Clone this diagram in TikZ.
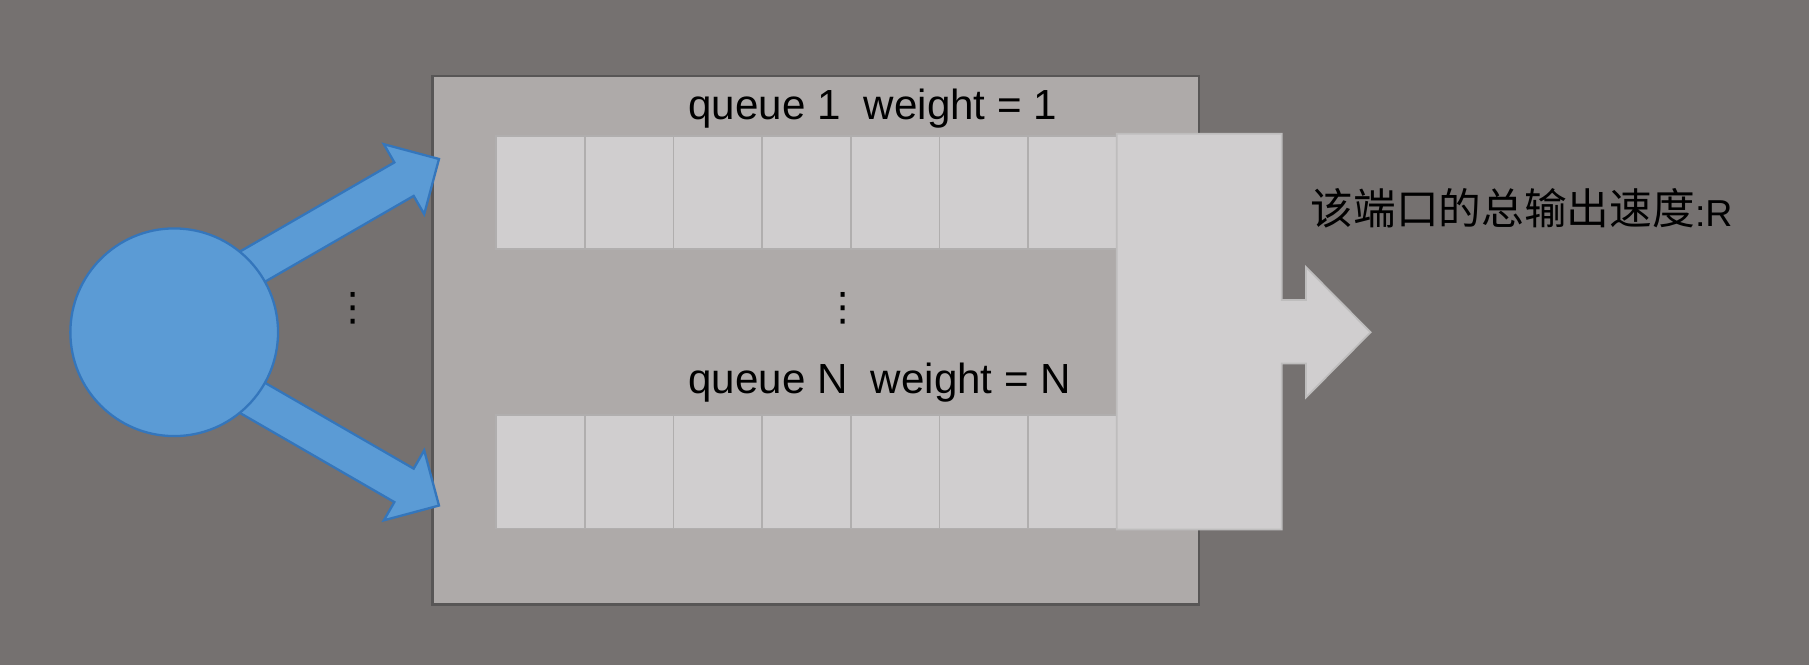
\documentclass[tikz,border=0pt]{standalone}
\usepackage{fontspec}
\usepackage{graphicx}
\setmainfont{Liberation Sans}
\newfontfamily\cjkfont{Noto Sans CJK SC}
\newfontfamily\dotfont{DejaVu Sans}
\definecolor{bgc}{RGB}{117,113,112}
\definecolor{portfill}{RGB}{174,170,169}
\definecolor{portline}{RGB}{88,86,86}
\definecolor{cellfill}{RGB}{208,206,207}
\definecolor{cellline}{RGB}{176,174,174}
\definecolor{blockline}{RGB}{190,189,189}
\definecolor{bluefill}{RGB}{91,155,213}
\definecolor{blueline}{RGB}{52,118,188}
\tikzset{
  cellbox/.style={rectangle, draw=cellline, fill=cellfill, line width=1.5pt,
    minimum width=76.86pt, minimum height=98pt, inner sep=0pt},
  portbox/.style={rectangle, draw=portline, fill=portfill, line width=2pt,
    minimum width=664pt, minimum height=458pt, inner sep=0pt},
  srcnode/.style={circle, draw=blueline, fill=bluefill, line width=2pt,
    minimum size=180pt, inner sep=0pt},
  blockarrow/.style={draw=blueline, fill=bluefill, line width=2pt, line join=miter},
  outblock/.style={draw=blockline, fill=cellfill, line width=1.5pt},
  qlabel/.style={anchor=base west, inner sep=0pt, font=\fontsize{36.5}{40}\selectfont},
  ellip/.style={inner sep=0pt, font=\dotfont\fontsize{34}{34}\selectfont}
}
\begin{document}
\begin{tikzpicture}[x=1pt,y=1pt]
\useasboundingbox (0,0) rectangle (1568,576);
\fill[bgc] (0,0) rectangle (1568,576);

% port box
\node[portbox] (port) at (707,281) {};

% input arrows (drawn under the circle)
\coordinate (tipA) at (380.5,438.2);
\coordinate (tipB) at (380.5,137.8);
\begin{scope}[shift={(tipA)}, rotate=30]
  \draw[blockarrow] (0,0) -- (-35,35) -- (-35,16.75) -- (-230,16.75)
    -- (-230,-16.75) -- (-35,-16.75) -- (-35,-35) -- cycle;
\end{scope}
\begin{scope}[shift={(tipB)}, rotate=-30]
  \draw[blockarrow] (0,0) -- (-35,35) -- (-35,16.75) -- (-230,16.75)
    -- (-230,-16.75) -- (-35,-16.75) -- (-35,-35) -- cycle;
\end{scope}
\node[srcnode] (src) at (151,288) {};

% queue cells
\foreach \i in {1,...,7}{
  \node[cellbox] (qa\i) at ({430+76.86*(\i-0.5)},409) {};
  \node[cellbox] (qn\i) at ({430+76.86*(\i-0.5)},167) {};
}

% output block with arrow
\draw[outblock] (968,117) -- (1111,117) -- (1111,261) -- (1132,261) -- (1132,231.5)
  -- (1188,288) -- (1132,344.5) -- (1132,316) -- (1111,316) -- (1111,460)
  -- (968,460) -- cycle;

% labels
\node[qlabel] (l1) at (596.5,472) {queue 1\ \ weight = 1};
\node[qlabel] (lN) at (596.5,234.5) {queue N\ \ weight = N};
\node[anchor=base west, inner sep=0pt] (rate) at (1136,380)
  {\raisebox{1.5pt}{\cjkfont\fontsize{37}{40}\selectfont 该端口的总输出速度}\fontsize{32.5}{34}\selectfont :R};

% ellipses
\node[ellip] (d1) at (305.9,308.4) {⋮};
\node[ellip] (d2) at (731.2,308.4) {⋮};
\end{tikzpicture}
\end{document}
